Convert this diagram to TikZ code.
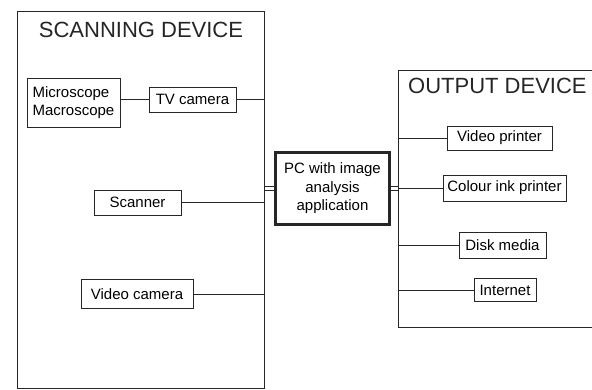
\documentclass[tikz,border=0pt]{standalone}
\usepackage{fontspec}
\setmainfont{Liberation Sans}
\begin{document}
\begin{tikzpicture}[x=1pt,y=-1pt,
  ink/.style={draw=black!85, line width=0.9pt},
  group/.style={ink, rectangle, inner sep=0pt},
  item/.style={ink, rectangle, inner sep=0pt, font=\fontsize{15}{18}\selectfont, align=center},
  title/.style={font=\fontsize{22}{26}\selectfont, inner sep=0pt, text=black!85},
  link/.style={ink},
  rail/.style={draw=black!85, line width=0.7pt}]
\clip (0,0) rectangle (592,390);
\fill[white] (0,0) rectangle (592,390);

% scanning side
\node[group, minimum width=247pt, minimum height=377pt] (scan) at (140.5,199.5) {};
\node[title] (scantitle) at (141,29.5) {SCANNING DEVICE};
\node[item, align=left, minimum width=93pt, minimum height=49pt] (micro) at (73.5,102.5) {Microscope\\Macroscope};
\node[item, minimum width=87pt, minimum height=25pt] (tv) at (192.5,99.5) {TV camera};
\node[item, minimum width=87pt, minimum height=25pt] (scanner) at (137.5,202.5) {Scanner};
\node[item, minimum width=112pt, minimum height=29pt] (vcam) at (137,294) {Video camera};

% central computer
\node[item, draw=black!85, line width=3pt, minimum width=114pt, minimum height=72pt,
      font=\fontsize{15}{18.5}\selectfont] (pc) at (332.5,188.5) {PC with image\\analysis\\application};

% output side
\node[group, minimum width=222pt, minimum height=257pt] (out) at (509,198.5) {};
\node[title, anchor=west] (outtitle) at (408,85.5) {OUTPUT DEVICE};
\node[item, minimum width=105pt, minimum height=24pt] (vprint) at (499.5,138) {Video printer};
\node[item, minimum width=123pt, minimum height=26pt] (colour) at (504.5,188) {Colour ink printer};
\node[item, minimum width=87pt, minimum height=26pt] (disk) at (502.5,245) {Disk media};
\node[item, minimum width=62pt, minimum height=23pt] (net) at (505,290) {Internet};

% connectors inside the scanning device
\draw[link] (tv.west -| micro.east) -- (tv.west);
\draw[link] (tv.east) -- (tv.east -| scan.east);
\draw[link] (scanner.east) -- (scanner.east -| scan.east);
\draw[link] (vcam.east) -- (vcam.east -| scan.east);

% paired rails to and from the computer
\foreach \dy in {-2,2} {
  \draw[rail] ([yshift=\dy pt]pc.west -| scan.east) -- ([yshift=\dy pt]pc.west);
  \draw[rail] ([yshift=\dy pt]pc.east) -- ([yshift=\dy pt]pc.east -| out.west);
}

% connectors inside the output device
\draw[link] (vprint.west -| out.west) -- (vprint.west);
\draw[link] (colour.west -| out.west) -- (colour.west);
\draw[link] (disk.west -| out.west) -- (disk.west);
\draw[link] (net.west -| out.west) -- (net.west);
\end{tikzpicture}
\end{document}
